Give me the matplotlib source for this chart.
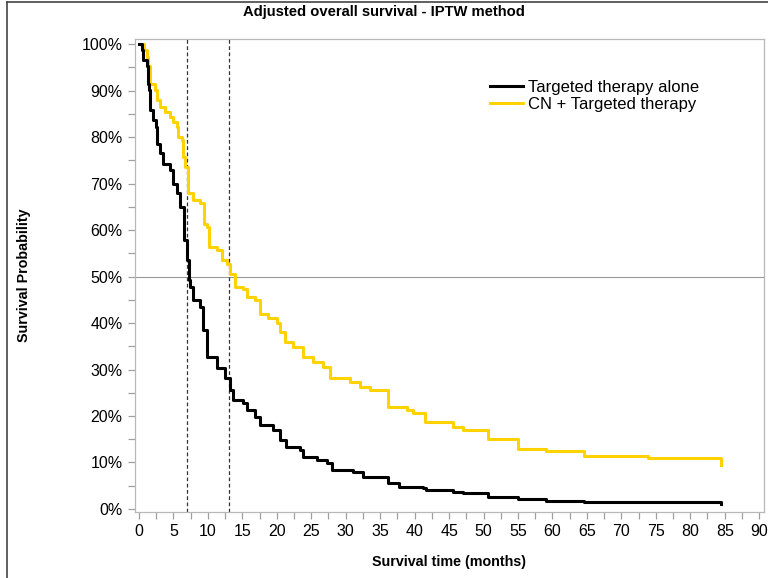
"""Adjusted overall survival (IPTW) - Kaplan-Meier style step curves."""

import numpy as np
import matplotlib
matplotlib.use("Agg")
import matplotlib.pyplot as plt
from matplotlib.lines import Line2D
from matplotlib.ticker import MultipleLocator, FuncFormatter

plt.rcParams["font.family"] = ["Liberation Sans", "DejaVu Sans"]

# values (months, survival %)
tt_time = [0, 0.4, 0.62, 1.1, 1.26, 1.45, 1.6, 2.08, 2.4, 2.55, 3.0, 3.5, 4.5,
           5.0, 5.5, 6.0, 6.5, 6.6, 6.9, 7.2, 7.4, 7.84, 8.85, 9.3, 9.87, 11.3,
           12.5, 13.2, 13.6, 15.1, 15.7, 16.8, 17.5, 19.4, 20.4, 21.4, 23.3, 23.8,
           25.8, 27.3, 28.0, 31.0, 32.5, 36.2, 37.8, 41.2, 41.7, 45.5, 47.0, 50.6,
           55.0, 59.0, 64.6, 84.5]
tt_surv = [100, 98.7, 96.6, 95.2, 91.5, 90.1, 85.8, 83.7, 82.2, 78.6, 76.5, 74.3, 72.9,
           70, 67.9, 65, 62.2, 57.8, 53.5, 49.2, 47.8, 45, 43.4, 38.5, 32.7, 30.3,
           28.2, 25.6, 23.4, 22.8, 21.3, 19.8, 18.0, 17.0, 14.8, 13.3, 12.7, 11.2,
           10.5, 9.9, 8.4, 8.0, 6.9, 5.6, 4.7, 4.5, 4.1, 3.7, 3.4, 2.6,
           2.2, 1.8, 1.5, 1.1]

cn_time = [0, 0.7, 1.1, 1.35, 1.6, 2.3, 2.55, 3.0, 3.8, 4.5, 5.0, 5.5, 5.7, 6.2,
           6.4, 6.7, 7.15, 7.9, 8.9, 9.4, 9.9, 10.1, 11.3, 12.0, 12.7, 13.2, 13.9,
           15.1, 15.7, 16.8, 17.6, 18.7, 20.0, 20.5, 21.2, 22.4, 23.8, 25.3, 26.7,
           27.7, 30.6, 32.1, 33.5, 36.1, 38.9, 39.8, 41.5, 45.6, 47.0, 50.6, 55.0,
           59.0, 64.6, 73.8, 84.5]
cn_surv = [100, 98.7, 97.3, 95.2, 91.5, 90.1, 87.9, 86.5, 85.4, 84.3, 83.3, 82.2, 80, 79.4,
           75.8, 73.6, 67.9, 66.5, 65.8, 61.4, 60.7, 56.4, 55.7, 53.5, 52.8, 50.6, 47.8,
           47.4, 45.6, 45, 42, 41, 40, 38, 36, 34.8, 32.7, 31.6, 30.5,
           28.2, 27.3, 26.2, 25.6, 21.9, 21.3, 20.6, 18.7, 17.6, 17.0, 15, 13,
           12.5, 11.4, 11, 9.5]

cut_times = [7, 13]
labels = ["Targeted therapy alone", "CN + Targeted therapy"]
colors = ["black", "#FFD200"]

fig = plt.figure(figsize=(7.68, 5.78), dpi=100)
ax = fig.add_axes([135 / 768, 1 - 512 / 578, (764 - 135) / 768, (512 - 39) / 578])

ax.step(tt_time, tt_surv, where="post", color=colors[0], linewidth=2.2,
        label=labels[0], zorder=4)
ax.step(cn_time, cn_surv, where="post", color=colors[1], linewidth=2.2,
        label=labels[1], zorder=3)

ax.axhline(50, color="#999999", linewidth=0.8, zorder=1)
for t in cut_times:
    ax.axvline(t, color="#333333", linestyle=(0, (3, 2)), linewidth=0.9, zorder=2)

ax.set_xlim(-0.58, 90.7)
ax.set_ylim(-0.65, 101.1)
ax.xaxis.set_major_locator(MultipleLocator(5))
ax.xaxis.set_minor_locator(MultipleLocator(2.5))
ax.yaxis.set_major_locator(MultipleLocator(10))
ax.yaxis.set_minor_locator(MultipleLocator(5))
ax.yaxis.set_major_formatter(FuncFormatter(lambda v, _: f"{v:.0f}%"))

for side in ["left", "right", "top", "bottom"]:
    ax.spines[side].set_color("#b8b8b8")
    ax.spines[side].set_linewidth(0.9)
ax.tick_params(which="both", direction="out", length=5, width=0.9,
               color="#a0a0a0", labelsize=11.5, labelcolor="black", pad=4)

ax.set_xlabel("Survival time (months)", fontsize=10.3, fontweight="bold", labelpad=11)
ax.set_ylabel("Survival Probability", fontsize=10.3, fontweight="bold", labelpad=36)
fig.text(0.5, 1 - 12 / 578, "Adjusted overall survival - IPTW method",
         ha="center", va="center", fontsize=10.6, fontweight="bold")

ax.legend(loc="upper left", bbox_to_anchor=((490 - 135) / 629, 1 - (80 - 39) / 473),
          frameon=False, fontsize=12, handlelength=2.0, handletextpad=0.3,
          labelspacing=0.1, borderaxespad=0, borderpad=0)

# outer frame of the original export (left and top edges)
fig.add_artist(Line2D([7 / 768, 7 / 768], [0, 1 - 2 / 578], color="#444444", linewidth=1.2))
fig.add_artist(Line2D([7 / 768, 1], [1 - 2 / 578, 1 - 2 / 578], color="#444444", linewidth=1.2))

fig.savefig("out.png", dpi=100)
print("Saved: out.png")
